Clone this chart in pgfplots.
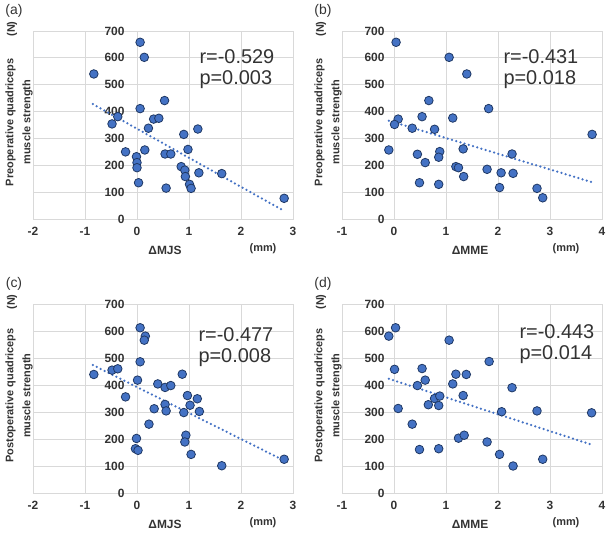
\documentclass[border=0pt]{standalone}
\usepackage{fontspec}
\setmainfont{Liberation Sans}
\usepackage{pgfplots}
\pgfplotsset{compat=1.18}
\definecolor{ptblue}{HTML}{4472C4}
\definecolor{ptedge}{HTML}{1F3864}
\definecolor{gridgray}{HTML}{D9D9D9}
\definecolor{txtgray}{HTML}{333333}

\pgfplotsset{
  panel/.style={
    scale only axis, width=260bp, height=188bp,
    anchor=south west,
    ymin=0, ymax=700, ytick={0,100,...,700},
    grid=major, major grid style={gridgray, line width=0.8bp},
    axis line style={gridgray, line width=0.8bp},
    major tick length=0pt,
    tick label style={font=\bfseries\fontsize{12}{14}\selectfont, text=txtgray},
    xticklabel style={yshift=-5bp},
    /pgf/number format/assume math mode=true,
    clip=false,
  },
  dots/.style={only marks, mark=*, mark size=4.3bp,
    mark options={fill=ptblue, draw=ptedge, line width=0.8bp}},
  trend/.style={ptblue, line width=2.5bp, line cap=round, dash pattern=on 0bp off 4.4bp},
}
\newcommand{\ylab}[1]{\node[rotate=90, align=center, text=txtgray,
  font=\bfseries\fontsize{11}{17}\selectfont]
  at ([xshift=-14bp]axis description cs:0,0.515) {#1 quadriceps\\muscle strength};
  \node[rotate=90, text=txtgray, font=\bfseries\fontsize{11}{13}\selectfont]
  at ([xshift=-21bp,yshift=2bp]axis description cs:0,1) {(N)};}
\newcommand{\stat}[4]{\node[anchor=west, text=txtgray, font=\fontsize{20}{23}\selectfont]
  at ([xshift=#3,yshift=#4]axis description cs:0,1) {r=#1};
  \node[anchor=west, text=txtgray, font=\fontsize{20}{23}\selectfont]
  at ([xshift=#3,yshift=#4-23bp]axis description cs:0,1) {p=#2};}

\begin{document}
\begin{tikzpicture}
\useasboundingbox (0,0) rectangle (606bp,534bp);

% (a) preop strength vs delta MJS
\begin{axis}[panel, at={(33bp,315bp)}, xmin=-2, xmax=3, xtick={-2,...,3},
  yticklabel style={xshift=95bp}]
\addplot[trend] coordinates {(-0.85,428) (2.82,31)};
\addplot[dots] coordinates {
(0.06,658) (0.14,602) (-0.83,540) (0.06,411) (0.53,441) (-0.37,381) (-0.48,354)
(0.32,372) (0.42,375) (0.22,338) (1.17,335) (0.90,315) (-0.22,250) (0.15,257)
(0.54,242) (0.65,242) (0.98,259) (-0.01,232) (0.00,210) (0.00,191) (0.85,195)
(0.92,182) (0.93,158) (1.19,172) (1.63,169) (0.03,135) (0.56,115) (1.01,129)
(1.04,114) (2.83,77)};
\ylab{Preoperative}
\stat{-0.529}{0.003}{163bp}{-26bp}
\node[text=txtgray, font=\fontsize{14}{16}\selectfont] at ([xshift=-19bp,yshift=20bp]axis description cs:0,1) {(a)};
\node[text=txtgray, font=\bfseries\fontsize{12}{14}\selectfont] at ([xshift=132bp,yshift=-31bp]axis description cs:0,0) {ΔMJS};
\node[text=txtgray, font=\bfseries\fontsize{11}{13}\selectfont] at ([xshift=230bp,yshift=-30bp]axis description cs:0,0) {(mm)};
\end{axis}

% (b) preop strength vs delta MME
\begin{axis}[panel, at={(342bp,315bp)}, xmin=-1, xmax=4, xtick={-1,...,4},
  yticklabel style={xshift=46bp}]
\addplot[trend] coordinates {(-0.10,366) (3.81,137)};
\addplot[dots] coordinates {
(0.04,658) (1.06,602) (1.40,540) (0.67,441) (1.82,411) (0.08,372) (0.54,381)
(1.13,376) (0.01,352) (0.35,338) (0.78,334) (3.81,315) (-0.10,257) (0.45,241)
(0.88,251) (1.33,261) (0.86,230) (2.27,242) (0.60,210) (1.19,195) (1.24,191)
(1.34,158) (1.79,185) (2.06,172) (2.29,170) (0.49,135) (0.86,129) (2.03,117)
(2.75,114) (2.86,79)};
\ylab{Preoperative}
\stat{-0.431}{0.018}{158bp}{-26bp}
\node[text=txtgray, font=\fontsize{14}{16}\selectfont] at ([xshift=-19bp,yshift=20bp]axis description cs:0,1) {(b)};
\node[text=txtgray, font=\bfseries\fontsize{12}{14}\selectfont] at ([xshift=128bp,yshift=-31bp]axis description cs:0,0) {ΔMME};
\node[text=txtgray, font=\bfseries\fontsize{11}{13}\selectfont] at ([xshift=224bp,yshift=-30bp]axis description cs:0,0) {(mm)};
\end{axis}

% (c) postop strength vs delta MJS
\begin{axis}[panel, at={(33bp,41bp)}, height=189bp, xmin=-2, xmax=3, xtick={-2,...,3},
  yticklabel style={xshift=95bp}]
\addplot[trend] coordinates {(-0.85,474) (2.82,121)};
\addplot[dots] coordinates {
(0.06,612) (0.16,581) (0.14,566) (0.06,486) (-0.83,439) (-0.48,455) (-0.37,460)
(0.01,418) (-0.22,356) (0.87,440) (0.40,404) (0.54,391) (0.65,398) (0.97,361)
(1.16,349) (0.54,328) (1.02,325) (0.56,304) (0.33,312) (0.90,298) (1.20,302)
(0.23,255) (-0.01,202) (-0.03,164) (0.02,158) (0.94,214) (0.92,189) (1.04,143)
(1.63,101) (2.83,125)};
\ylab{Postoperative}
\stat{-0.477}{0.008}{162bp}{-31bp}
\node[text=txtgray, font=\fontsize{14}{16}\selectfont] at ([xshift=-19bp,yshift=20bp]axis description cs:0,1) {(c)};
\node[text=txtgray, font=\bfseries\fontsize{12}{14}\selectfont] at ([xshift=132bp,yshift=-31bp]axis description cs:0,0) {ΔMJS};
\node[text=txtgray, font=\bfseries\fontsize{11}{13}\selectfont] at ([xshift=230bp,yshift=-30bp]axis description cs:0,0) {(mm)};
\end{axis}

% (d) postop strength vs delta MME
\begin{axis}[panel, at={(342bp,41bp)}, height=189bp, xmin=-1, xmax=4, xtick={-1,...,4},
  yticklabel style={xshift=46bp}]
\addplot[trend] coordinates {(-0.10,423) (3.80,179)};
\addplot[dots] coordinates {
(0.03,612) (-0.10,581) (1.06,566) (1.83,487) (0.01,458) (0.54,461) (0.60,418)
(1.19,440) (1.39,439) (1.13,404) (0.45,398) (2.27,390) (1.33,361) (0.78,350)
(0.88,359) (0.66,327) (0.86,324) (0.08,313) (2.07,301) (2.75,304) (3.80,297)
(0.35,255) (1.24,203) (1.35,214) (1.79,189) (0.49,161) (0.86,164) (2.03,143)
(2.29,100) (2.86,125)};
\ylab{Postoperative}
\stat{-0.443}{0.014}{174bp}{-28bp}
\node[text=txtgray, font=\fontsize{14}{16}\selectfont] at ([xshift=-19bp,yshift=20bp]axis description cs:0,1) {(d)};
\node[text=txtgray, font=\bfseries\fontsize{12}{14}\selectfont] at ([xshift=128bp,yshift=-31bp]axis description cs:0,0) {ΔMME};
\node[text=txtgray, font=\bfseries\fontsize{11}{13}\selectfont] at ([xshift=224bp,yshift=-30bp]axis description cs:0,0) {(mm)};
\end{axis}
\end{tikzpicture}
\end{document}
